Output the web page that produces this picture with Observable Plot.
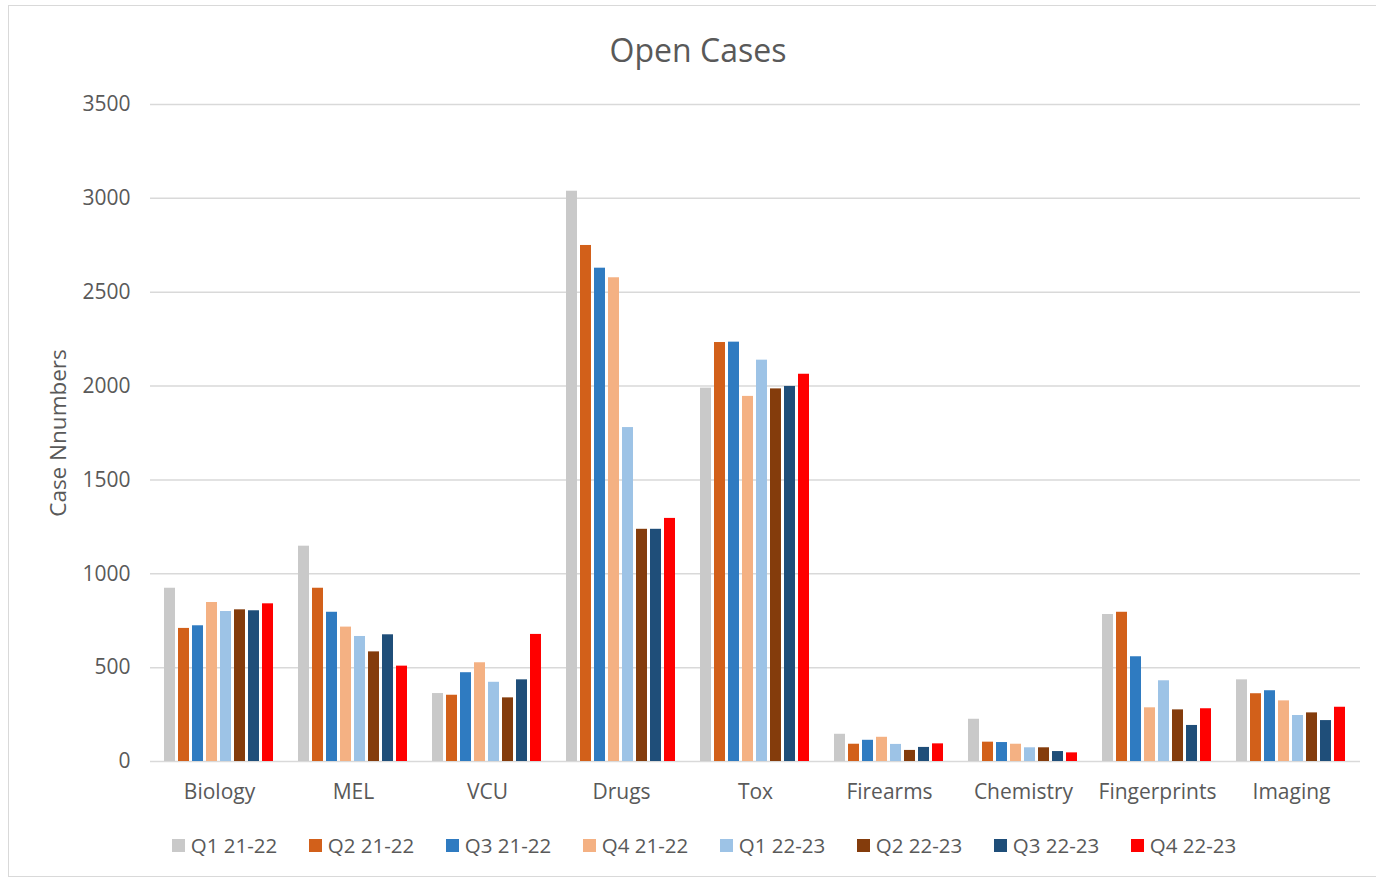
<!DOCTYPE html>
<html>
<head>
<meta charset="utf-8">
<script src="https://cdn.jsdelivr.net/npm/d3@7"></script>
<script src="https://cdn.jsdelivr.net/npm/@observablehq/plot@0.6"></script>
<style>
  body { margin: 0; background: #fff; font-family: "Open Sans", sans-serif; }
  #frame { position: absolute; left: 8px; top: 5px; width: 1380px; height: 872px; border: 1px solid #d9d9d9; box-sizing: border-box; }
  #title { position: absolute; left: 8px; width: 1380px; top: 34px; text-align: center; font-size: 32px; line-height: 32px; color: #595959; }
  #chart { position: absolute; left: 0; top: 80px; width: 1376px; height: 720px; }
  #chart svg { position: absolute; left: 0; top: 0; }
  #legend { position: absolute; left: 14px; width: 1380px; top: 832px; display: flex; justify-content: center; gap: 31.5px; font-size: 20.5px; color: #595959; line-height: 26px; }
  .item { display: flex; align-items: center; }
  .sw { width: 13px; height: 13px; margin-right: 6px; }
</style>
</head>
<body>
<div id="frame"></div>
<div id="title">Open Cases</div>
<div id="chart"></div>
<div id="legend"></div>
<script>
const categories = ["Biology", "MEL", "VCU", "Drugs", "Tox", "Firearms", "Chemistry", "Fingerprints", "Imaging"];
const series = ["Q1 21-22", "Q2 21-22", "Q3 21-22", "Q4 21-22", "Q1 22-23", "Q2 22-23", "Q3 22-23", "Q4 22-23"];
const colors = ["#c9c9c9", "#d2601a", "#2f7bc1", "#f4b183", "#9dc3e6", "#843c0c", "#1f4e79", "#ff0000"];
const yTicks = [0, 500, 1000, 1500, 2000, 2500, 3000, 3500];
const yLabel = ["Case Nnumbers"];

const q1_2122 = [923, 1147, 362, 3038, 1989, 145, 225, 783, 435];
const q2_2122 = [709, 923, 353, 2749, 2232, 92, 103, 795, 361];
const q3_2122 = [723, 795, 473, 2628, 2234, 113, 101, 558, 377];
const q4_2122 = [847, 716, 526, 2577, 1945, 129, 92, 286, 323];
const q1_2223 = [799, 666, 422, 1779, 2138, 91, 73, 430, 245];
const q2_2223 = [808, 584, 339, 1237, 1985, 59, 73, 275, 259];
const q3_2223 = [803, 675, 435, 1237, 1998, 75, 53, 192, 218];
const q4_2223 = [840, 508, 677, 1295, 2063, 94, 46, 281, 289];

const seriesValues = [q1_2122, q2_2122, q3_2122, q4_2122, q1_2223, q2_2223, q3_2223, q4_2223];
const data = categories.flatMap((c, i) => series.map((s, j) => ({category: c, series: s, value: seriesValues[j][i]})));

const W = 1376, H = 720;
const margins = {marginLeft: 150, marginRight: 16, marginTop: 24, marginBottom: 39};
const textStyle = {fontFamily: "Open Sans", fontSize: "21px", color: "#595959", background: "transparent", overflow: "visible"};

const bg = Plot.plot({
  width: W, height: H, ...margins,
  style: textStyle,
  y: {domain: [0, 3500]},
  marks: [
    Plot.ruleY(yTicks, {stroke: "#d9d9d9", strokeWidth: 1.5}),
    Plot.axisY(yTicks, {tickSize: 0, tickPadding: 20, fontSize: 21, tickFormat: d => String(d), label: null}),
    Plot.text(yLabel, {text: d => d, frameAnchor: "left", textAnchor: "middle", rotate: -90, dx: -92, fontSize: 22.5, fill: "#595959"})
  ]
});

const fg = Plot.plot({
  width: W, height: H, ...margins,
  style: {...textStyle, fontSize: "21px"},
  fx: {domain: categories, paddingInner: 0.18, paddingOuter: 0.09, axis: "bottom", tickSize: 0, tickPadding: 23, label: null},
  x: {domain: series, axis: null, paddingInner: 0.2, paddingOuter: 0},
  y: {domain: [0, 3500], axis: null},
  color: {domain: series, range: colors},
  marks: [
    Plot.barY(data, {fx: "category", x: "series", y: "value", fill: "series"})
  ]
});

const chart = document.getElementById("chart");
chart.appendChild(bg);
chart.appendChild(fg);

const legend = document.getElementById("legend");
series.forEach((s, j) => {
  const item = document.createElement("div");
  item.className = "item";
  const sw = document.createElement("div");
  sw.className = "sw";
  sw.style.background = colors[j];
  const t = document.createElement("span");
  t.textContent = s;
  item.appendChild(sw);
  item.appendChild(t);
  legend.appendChild(item);
});
</script>
</body>
</html>
